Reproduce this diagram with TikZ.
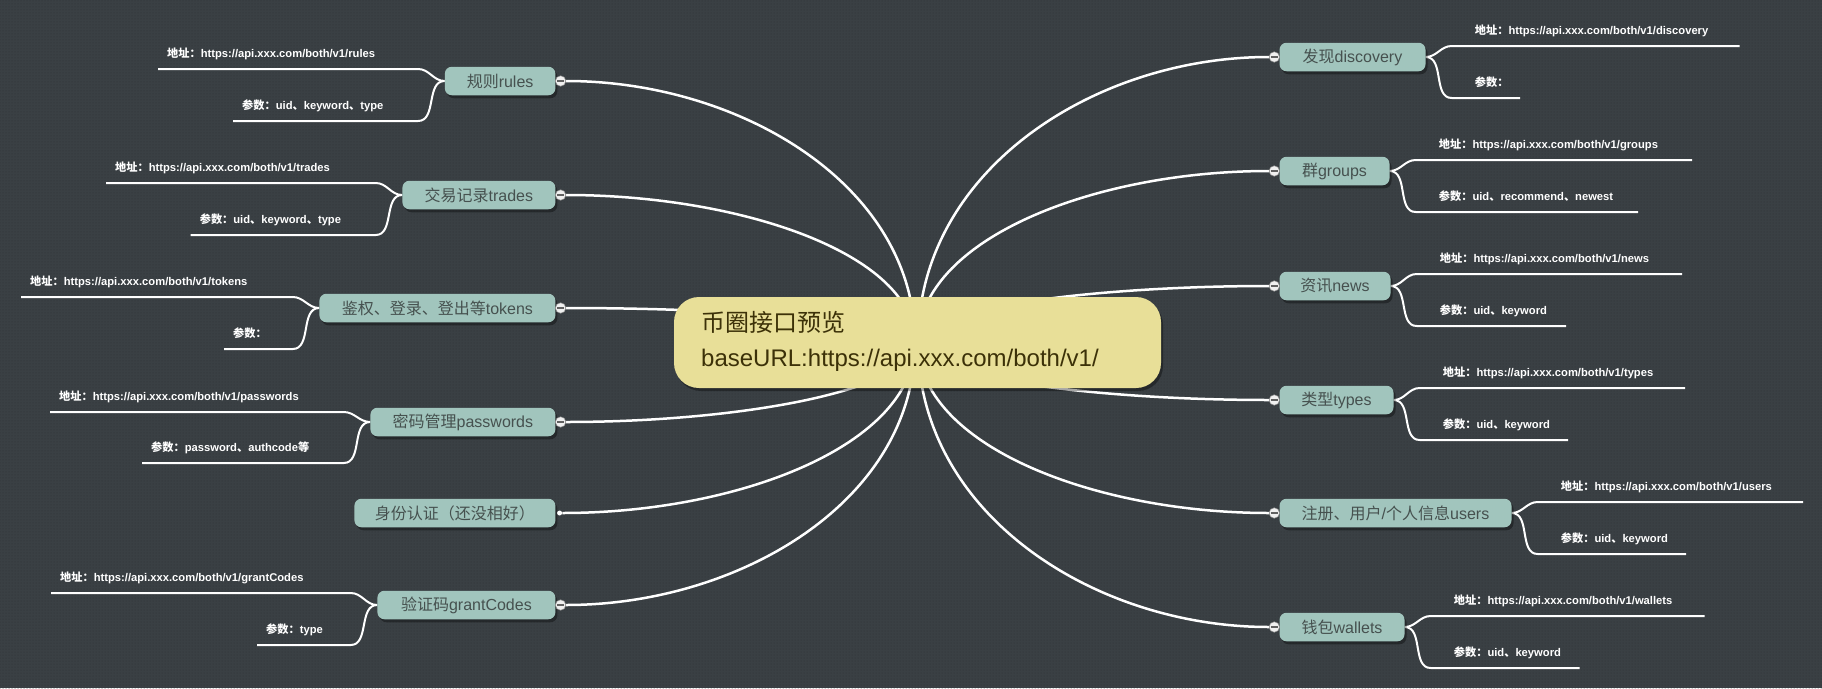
\documentclass[tikz,border=0pt]{standalone}
\usepackage{fontspec}
\setmainfont{Liberation Sans}
\newfontfamily\cjk{Noto Sans CJK SC}
\usetikzlibrary{calc,shadows,patterns}
\definecolor{bgc}{HTML}{3A4044}
\definecolor{bgdot}{HTML}{2E3337}
\definecolor{nodefill}{HTML}{A1C5BD}
\definecolor{nodetext}{HTML}{46514F}
\definecolor{rootfill}{HTML}{E8DF98}
\definecolor{roottext}{HTML}{3C3108}
\definecolor{togline}{HTML}{8A8A8A}
\pgfdeclarelayer{back}
\pgfdeclarelayer{links}
\pgfsetlayers{back,links,main}
\newcommand\zh[1]{{\cjk #1}}
\newcommand\addr[1]{\zh{地址：}https://api.xxx.com/both/v1/#1}
\newcommand\para[1]{\zh{参数：}#1}
% left leaf: name, parent, line y, outer x, text
\newcommand\lleaf[5]{%
  \coordinate (#1-o) at (#4,#3);
  \coordinate (#1-i) at ($(#2.west |- #1-o)+(-26.5,0)$);
  \node[lbl, anchor=base west] (#1) at ($(#1-o)+(9,-11.5)$) {#5};
  \begin{pgfonlayer}{links}
  \draw[br] (#2.west) to[out=180,in=0] (#1-i) -- (#1-o);
  \end{pgfonlayer}}
% right leaf: name, parent, line y, outer x, text
\newcommand\rleaf[5]{%
  \coordinate (#1-o) at (#4,#3);
  \coordinate (#1-i) at ($(#2.east |- #1-o)+(26,0)$);
  \node[lbl, anchor=base west] (#1) at ($(#1-i)+(23,-11.5)$) {#5};
  \begin{pgfonlayer}{links}
  \draw[br] (#2.east) to[out=0,in=180] (#1-i) -- (#1-o);
  \end{pgfonlayer}}
% main connectors
\newcommand\linkL[1]{%
  \path (oL |- #1.east) coordinate (q#1);
  \begin{pgfonlayer}{links}
  \draw[conn] (#1.east) .. controls ($(#1.east)!0.5!(q#1)$) and ($(oL)!0.6!(q#1)$) .. (oL);
  \end{pgfonlayer}}
\newcommand\linkR[1]{%
  \path (oR |- #1.west) coordinate (q#1);
  \begin{pgfonlayer}{links}
  \draw[conn] (#1.west) .. controls ($(#1.west)!0.5!(q#1)$) and ($(oR)!0.6!(q#1)$) .. (oR);
  \end{pgfonlayer}}
\tikzset{
  child/.style={rounded corners=7, fill=nodefill, text=nodetext, minimum height=28.5, inner sep=0,
    font=\fontsize{16}{18}\selectfont,
    drop shadow={shadow xshift=2pt, shadow yshift=-3pt, fill=black, opacity=0.35}},
  rootbox/.style={rounded corners=25, fill=rootfill, minimum width=487, minimum height=91, inner sep=0,
    drop shadow={shadow xshift=2pt, shadow yshift=-3pt, fill=black, opacity=0.35}},
  lbl/.style={text=white, inner sep=0, font=\bfseries\fontsize{11.2}{13}\selectfont},
  br/.style={draw=white, line width=2},
  conn/.style={draw=white, line width=2.5},
  tog/.style={circle, fill=white!94!black, draw=togline, line width=0.5, minimum size=10.5, inner sep=0,
    path picture={\draw[togline!70!black, line width=1.1] ([xshift=-3.8pt]path picture bounding box.center) -- ([xshift=3.8pt]path picture bounding box.center);}},
}
\begin{document}
\begin{tikzpicture}[x=1pt,y=-1pt]
\begin{pgfonlayer}{back}
\fill[bgc] (0,0) rectangle (1822,688);
\fill[pattern=dots, pattern color=bgdot] (0,0) rectangle (1822,688);
\end{pgfonlayer}
\useasboundingbox (0,0) rectangle (1822,688);

% root
\node[rootbox] (root) at (917.5,342.5) {};
\node[anchor=base west, inner sep=0, text=roottext, font=\cjk\fontsize{24}{28}\selectfont] (title) at (701,331) {币圈接口预览};
\node[anchor=base west, inner sep=0, text=roottext, font=\fontsize{24}{28}\selectfont] (baseurl) at (701,366) {baseURL:https://api.xxx.com/both/v1/};
\coordinate (oL) at ($(root.center)+(-2.5,0)$);
\coordinate (oR) at ($(root.center)+(0.5,0)$);

% left children
\node[child, anchor=east, minimum width=110.6] (rules) at (555.6,81) {\zh{规则}rules};
\node[child, anchor=east, minimum width=153] (trades) at (555.6,195) {\zh{交易记录}trades};
\node[child, anchor=east, minimum width=236] (tokens) at (555.6,308) {\zh{鉴权、登录、登出等}tokens};
\node[child, anchor=east, minimum width=185] (pwd) at (555.6,422) {\zh{密码管理}passwords};
\node[child, anchor=east, minimum width=201] (auth) at (555.6,513) {\zh{身份认证（还没相好）}};
\node[child, anchor=east, minimum width=178] (grant) at (555.6,605) {\zh{验证码}grantCodes};

% right children
\node[child, anchor=west, minimum width=146] (disc) at (1279.3,57) {\zh{发现}discovery};
\node[child, anchor=west, minimum width=110] (groups) at (1279.3,171) {\zh{群}groups};
\node[child, anchor=west, minimum width=111] (news) at (1279.3,286) {\zh{资讯}news};
\node[child, anchor=west, minimum width=114] (types) at (1279.3,400) {\zh{类型}types};
\node[child, anchor=west, minimum width=232] (users) at (1279.3,513) {\zh{注册、用户}/\zh{个人信息}users};
\node[child, anchor=west, minimum width=125] (wallets) at (1279.3,627) {\zh{钱包}wallets};

% toggles
\foreach \n in {rules,trades,tokens,pwd,grant}{
  \node[tog] (\n-t) at ($(\n.east)+(5,0)$) {};
}
\node[circle, fill=white, minimum size=5, inner sep=0] (auth-t) at ($(auth.east)+(4,0)$) {};
\foreach \n in {disc,groups,news,types,users,wallets}{
  \node[tog] (\n-t) at ($(\n.west)+(-5,0)$) {};
}

% main connectors
\linkL{rules-t}\linkL{trades-t}\linkL{tokens-t}\linkL{pwd-t}\linkL{auth-t}\linkL{grant-t}
\linkR{disc-t}\linkR{groups-t}\linkR{news-t}\linkR{types-t}\linkR{users-t}\linkR{wallets-t}

% left leaves
\lleaf{rules-a}{rules}{69}{158}{\addr{rules}}
\lleaf{rules-p}{rules}{121}{233}{\para{uid\zh{、}keyword\zh{、}type}}
\lleaf{trades-a}{trades}{183}{106}{\addr{trades}}
\lleaf{trades-p}{trades}{235}{190.6}{\para{uid\zh{、}keyword\zh{、}type}}
\lleaf{tokens-a}{tokens}{297}{21}{\addr{tokens}}
\lleaf{tokens-p}{tokens}{349}{224}{\para{}}
\lleaf{pwd-a}{pwd}{412}{50}{\addr{passwords}}
\lleaf{pwd-p}{pwd}{463}{142}{\para{password\zh{、}authcode\zh{等}}}
\lleaf{grant-a}{grant}{593}{51}{\addr{grantCodes}}
\lleaf{grant-p}{grant}{645}{257}{\para{type}}

% right leaves
\rleaf{disc-a}{disc}{46}{1739.5}{\addr{discovery}}
\rleaf{disc-p}{disc}{98}{1520}{\para{}}
\rleaf{groups-a}{groups}{160}{1692}{\addr{groups}}
\rleaf{groups-p}{groups}{212}{1638}{\para{uid\zh{、}recommend\zh{、}newest}}
\rleaf{news-a}{news}{274}{1682}{\addr{news}}
\rleaf{news-p}{news}{326}{1566}{\para{uid\zh{、}keyword}}
\rleaf{types-a}{types}{388}{1685}{\addr{types}}
\rleaf{types-p}{types}{440}{1568}{\para{uid\zh{、}keyword}}
\rleaf{users-a}{users}{502}{1803}{\addr{users}}
\rleaf{users-p}{users}{554}{1686}{\para{uid\zh{、}keyword}}
\rleaf{wallets-a}{wallets}{616}{1704.6}{\addr{wallets}}
\rleaf{wallets-p}{wallets}{668}{1579.6}{\para{uid\zh{、}keyword}}
\end{tikzpicture}
\end{document}
